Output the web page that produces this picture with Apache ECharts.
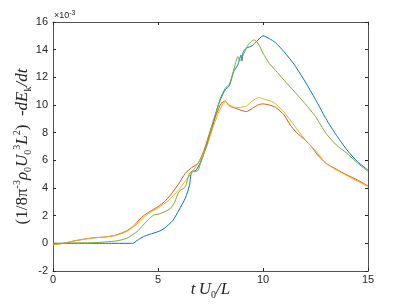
<!DOCTYPE html>
<html><head><meta charset="utf-8">
<script src="https://cdn.jsdelivr.net/npm/echarts@6/dist/echarts.min.js"></script>
<style>html,body{margin:0;padding:0;background:#fff}#c{width:407px;height:305px}</style>
</head><body><div id="c"></div>
<script>
const xTicks = [0, 5, 10, 15];
const yTicks = [-2, 0, 2, 4, 6, 8, 10, 12, 14, 16];
const yExponentLabel = "×10";

const tBlue = [0,1,2,3,3.8,4.0,4.3,4.6,5.0,5.3,5.7,6.0,6.3,6.5,6.6,6.8,7.0,7.3,7.6,7.8,8.0,8.2,8.4,8.6,8.8,8.95,9.0,9.05,9.2,9.5,9.7,10.0,10.3,10.6,11.0,11.5,12.0,12.5,13.0,13.5,14.0,14.5,15.0];
const vBlue = [0,0,0,0,0,0.2,0.48,0.65,0.84,1.08,1.64,2.41,3.26,4.2,5.19,5.26,5.8,7.0,8.45,9.65,10.5,11.1,11.4,12.4,12.9,13.6,13.2,13.8,14.1,14.3,14.6,15.0,14.8,14.5,13.85,12.9,11.7,10.4,9.0,7.8,6.75,5.9,5.3];

const tRed = [0,0.5,1,1.5,2,2.5,3,3.5,3.8,4,4.3,4.6,5,5.3,5.6,6,6.3,6.6,6.9,7.2,7.5,7.8,8,8.2,8.4,8.7,9,9.2,9.5,9.8,10,10.3,10.6,11,11.3,11.6,12,12.3,12.6,13,13.5,14,14.5,15];
const vRed = [-0.1,0,0.17,0.31,0.41,0.46,0.6,0.9,1.2,1.52,1.98,2.29,2.65,3.0,3.5,4.34,5.06,5.47,5.78,6.75,8.2,9.4,10.1,10.29,9.93,9.76,9.6,9.52,9.76,10.03,10.08,10.0,9.83,9.28,8.55,8.0,7.48,7.0,6.4,5.78,5.35,4.94,4.58,4.15];

const tYellow = [0,0.5,1,1.5,2,2.5,3,3.5,4,4.5,5,5.5,6,6.3,6.6,7,7.3,7.6,7.9,8.1,8.2,8.4,8.7,9,9.2,9.5,9.8,10,10.5,10.8,11,11.5,12,12.5,13,13.5,14,14.5,15];
const vYellow = [-0.1,0,0.17,0.3,0.4,0.46,0.58,0.85,1.4,2.1,2.55,3.1,3.9,4.5,5.1,6.0,6.9,8.3,9.5,10.1,10.25,10.0,9.8,9.85,9.92,10.3,10.55,10.45,10.2,9.8,9.5,8.5,7.5,6.7,5.8,5.3,4.9,4.5,4.1];

const tGreen = [0,1,2,3,3.5,4,4.3,4.6,4.8,5,5.3,5.6,5.8,6,6.3,6.5,6.7,6.9,7,7.3,7.6,7.8,8,8.2,8.4,8.6,8.8,8.9,9.1,9.3,9.5,9.6,9.8,10,10.3,10.6,11,11.5,12,12.5,13,13.5,14,14.5,15];
const vGreen = [0,0.02,0.05,0.17,0.36,0.84,1.33,1.8,2.05,2.1,2.27,2.53,3.0,3.74,4.1,5.06,5.18,5.25,5.66,7.0,8.7,9.65,10.6,11.2,11.5,12.5,13.5,13.2,13.75,14.36,14.67,14.7,14.36,13.75,13.0,12.5,11.8,10.96,10.1,9.16,7.95,7.1,6.5,5.8,5.2];

const pairs = (t, v) => t.map((x, i) => [x, v[i]]);
const series = [
  {c: '#0072BD', d: pairs(tBlue, vBlue)},
  {c: '#D95319', d: pairs(tRed, vRed)},
  {c: '#EDB120', d: pairs(tYellow, vYellow)},
  {c: '#77AC30', d: pairs(tGreen, vGreen)}
].map(s => ({type: 'line', data: s.d, showSymbol: false, symbol: 'none', smooth: 0.2,
  lineStyle: {color: s.c, width: 1}, itemStyle: {color: s.c}, xAxisIndex: 0, yAxisIndex: 0, animation: false}));

const axisCol = '#262626';
const lblFont = {color: axisCol, fontSize: 11, fontFamily: 'Liberation Sans'};
const chart = echarts.init(document.getElementById('c'), null, {renderer: 'canvas'});
chart.setOption({
  animation: false,
  grid: {left: 53, right: 39, top: 22, bottom: 34, show: false, containLabel: false, outerBoundsMode: 'none'},
  xAxis: [{
    type: 'value', min: 0, max: 15, interval: 5, position: 'bottom',
    axisLine: {show: true, onZero: false, lineStyle: {color: axisCol, width: 0.8}},
    axisTick: {show: true, inside: true, length: 3, lineStyle: {color: axisCol}},
    axisLabel: Object.assign({margin: 3}, lblFont),
    splitLine: {show: false},
    name: '{i|t} {i|U}{s|0}{i|/L}', nameLocation: 'middle', nameGap: 9, nameMoveOverlap: false,
    nameTextStyle: {rich: {
      i: {fontFamily: 'Liberation Serif', fontStyle: 'italic', fontSize: 17, color: axisCol, lineHeight: 20},
      s: {fontFamily: 'Liberation Serif', fontSize: 10, color: axisCol, verticalAlign: 'bottom', lineHeight: 15}
    }}
  }, {
    type: 'value', min: 0, max: 15, interval: 5, position: 'top',
    axisLine: {show: true, onZero: false, lineStyle: {color: axisCol, width: 0.8}},
    axisTick: {show: true, inside: true, length: 3, lineStyle: {color: axisCol}},
    axisLabel: {show: false}, splitLine: {show: false}
  }],
  yAxis: [{
    type: 'value', min: -2, max: 16, interval: 2, position: 'left',
    axisLine: {show: true, onZero: false, lineStyle: {color: axisCol, width: 0.8}},
    axisTick: {show: true, inside: true, length: 3, lineStyle: {color: axisCol}},
    axisLabel: Object.assign({margin: 5}, lblFont),
    splitLine: {show: false},
    name: '{n|(1/8π}{p|-3}{i|ρ}{b|0}{i|U}{b|0}{p|3}{i|L}{p|2}{n|)  -}{i|dE}{b|k}{i|/dt}',
    nameLocation: 'middle', nameGap: 20, nameMoveOverlap: false,
    nameTextStyle: {rich: {
      n: {fontFamily: 'Liberation Serif', fontSize: 17, color: axisCol, lineHeight: 21},
      i: {fontFamily: 'Liberation Serif', fontStyle: 'italic', fontSize: 17, color: axisCol, lineHeight: 21},
      p: {fontFamily: 'Liberation Serif', fontSize: 10, color: axisCol, verticalAlign: 'top', lineHeight: 21},
      b: {fontFamily: 'Liberation Serif', fontSize: 10, color: axisCol, verticalAlign: 'bottom', lineHeight: 15}
    }}
  }, {
    type: 'value', min: -2, max: 16, interval: 2, position: 'right',
    axisLine: {show: true, onZero: false, lineStyle: {color: axisCol, width: 0.8}},
    axisTick: {show: true, inside: true, length: 3, lineStyle: {color: axisCol}},
    axisLabel: {show: false}, splitLine: {show: false}
  }],
  graphic: [{
    type: 'text', left: 54, top: 10,
    style: {text: '{a|' + yExponentLabel + '}{b|-3}', rich: {
      a: {fontFamily: 'Liberation Sans', fontSize: 9, fill: axisCol, lineHeight: 12},
      b: {fontFamily: 'Liberation Sans', fontSize: 7, fill: axisCol, verticalAlign: 'top', lineHeight: 12}
    }}
  }],
  series: series
});
</script></body></html>
